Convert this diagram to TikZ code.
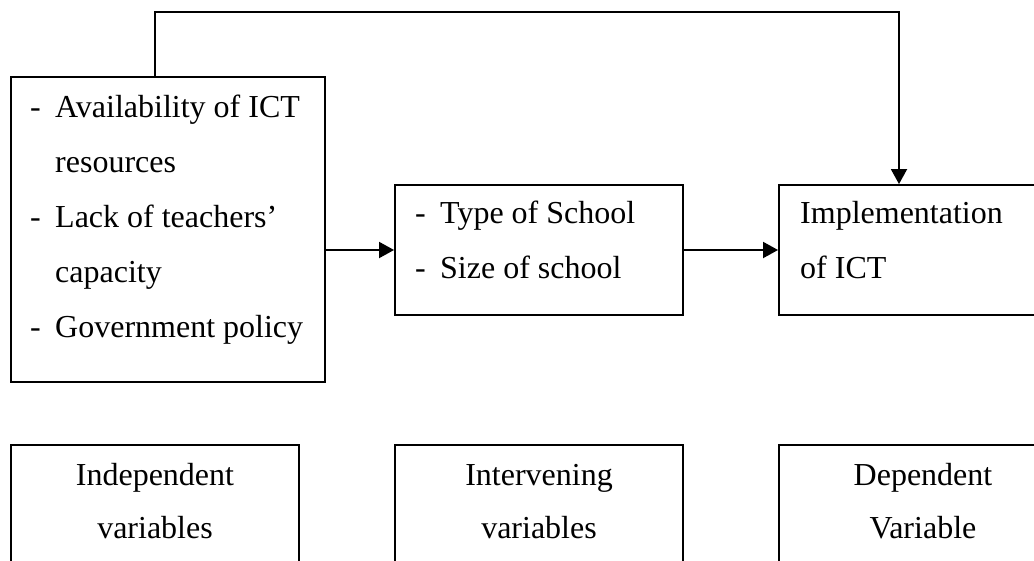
\documentclass[tikz,border=0pt]{standalone}
\usepackage{fontspec}
\setmainfont{Liberation Serif}
\usetikzlibrary{arrows.meta}
\begin{document}
\begin{tikzpicture}[x=1pt,y=-1pt,
  box/.style={draw=black,line width=1.9pt,rectangle,inner sep=0pt,minimum width=#1},
  txt/.style={inner sep=0pt,anchor=base west,font=\fontsize{32}{38}\selectfont},
  ctxt/.style={inner sep=0pt,anchor=base,font=\fontsize{32}{38}\selectfont},
  conn/.style={line width=1.9pt,-{Triangle[length=15pt,width=16pt]}}]
\useasboundingbox (0,0) rectangle (1034,560);
\clip (0,0) rectangle (1034,560);
% main boxes
\node[box=314pt,minimum height=305pt] (b1) at (168,229.5) {};
\node[box=288pt,minimum height=130pt] (b2) at (539,250) {};
\node[box=288pt,minimum height=130pt] (b3) at (923,250) {};
% label boxes
\node[box=288pt,minimum height=130pt] (bA) at (155,510) {};
\node[box=288pt,minimum height=130pt] (bB) at (539,510) {};
\node[box=288pt,minimum height=130pt] (bC) at (923,510) {};
% texts box 1
\node[txt] (d1) at (30,117) {-};
\node[txt] (t1) at (55,117) {Availability of ICT};
\node[txt] (t2) at (55,172) {resources};
\node[txt] (d2) at (30,227) {-};
\node[txt] (t3) at (55,227) {Lack of teachers’};
\node[txt] (t4) at (55,282) {capacity};
\node[txt] (d3) at (30,337) {-};
\node[txt] (t5) at (55,337) {Government policy};
% texts box 2
\node[txt] (d4) at (415,223) {-};
\node[txt] (t6) at (440,223) {Type of School};
\node[txt] (d5) at (415,278) {-};
\node[txt] (t7) at (440,278) {Size of school};
% texts box 3
\node[txt] (t8) at (800,223) {Implementation};
\node[txt] (t9) at (800,278) {of ICT};
% label texts
\node[ctxt] (l1) at (155,485) {Independent};
\node[ctxt] (l2) at (155,538) {variables};
\node[ctxt] (l3) at (539,485) {Intervening};
\node[ctxt] (l4) at (539,538) {variables};
\node[ctxt] (l5) at (923,485) {Dependent};
\node[ctxt] (l6) at (923,538) {Variable};
% connectors
\draw[conn] (b1.east |- b2.west) -- (b2.west);
\draw[conn] (b2.east) -- (b3.west);
\coordinate (c1) at (155,12);
\coordinate (c2) at (899,12);
\draw[conn] (c1 |- b1.north) -- (c1) -- (c2) -- (c2 |- b3.north);
\end{tikzpicture}
\end{document}
